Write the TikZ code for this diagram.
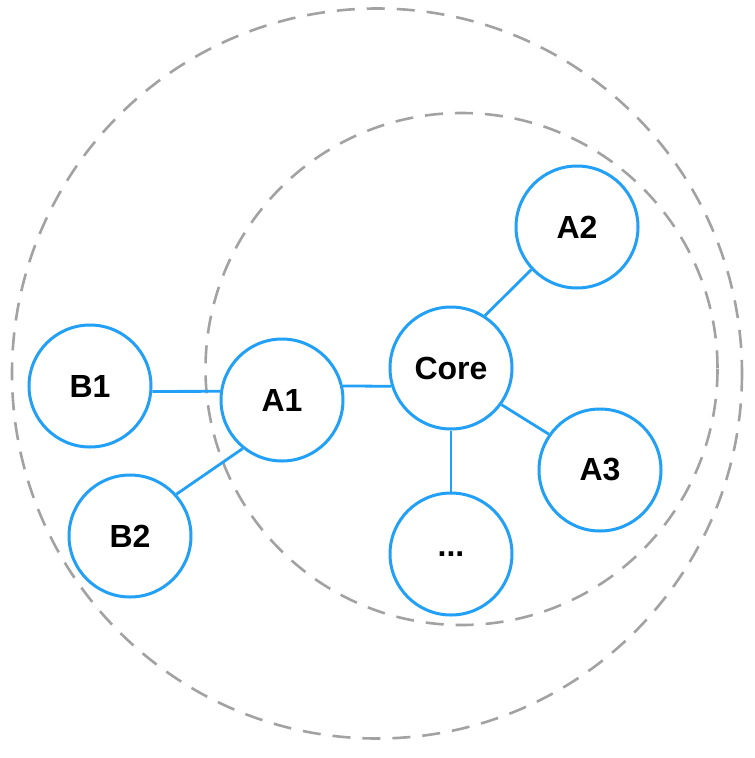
\documentclass[tikz,border=0pt]{standalone}
\usepackage{fontspec}
\setmainfont{Liberation Sans}
\definecolor{nodeblue}{RGB}{33,160,245}
\definecolor{ringgray}{RGB}{162,162,162}
\begin{document}
\begin{tikzpicture}[x=1pt,y=-1pt,
  nd/.style={circle,draw=nodeblue,line width=3pt,fill=white,minimum size=122pt,inner sep=0pt,font=\fontsize{32}{34}\selectfont\bfseries},
  ring/.style={draw=ringgray,line width=2.6pt,dash pattern=on 18pt off 12pt},
  link/.style={draw=nodeblue,line width=2.8pt}]
\useasboundingbox (0,0) rectangle (755,758);
\draw[ring] (377,373.5) circle (365);
\draw[ring] (461.5,369) circle (256);
\node[nd] (B1) at (90,386) {B1};
\node[nd] (B2) at (130,536) {B2};
\node[nd] (A1) at (282,400) {A1};
\node[nd] (Core) at (451,368) {Core};
\node[nd] (A2) at (577,227) {A2};
\node[nd] (A3) at (600,470) {A3};
\node[nd] (Dots) at (451,554) {...};
\draw[link] (B1.-5) -- (A1.172.6);
\draw[link] (A1.13) -- (Core.-163);
\draw[link] (A1.231.5) -- (B2.42.5);
\draw[link] (Core.57.3) -- (A2.223.1);
\draw[link] (Core.-36.7) -- (A3.145.5);
\draw[link] (Core) -- (Dots);
\end{tikzpicture}
\end{document}
